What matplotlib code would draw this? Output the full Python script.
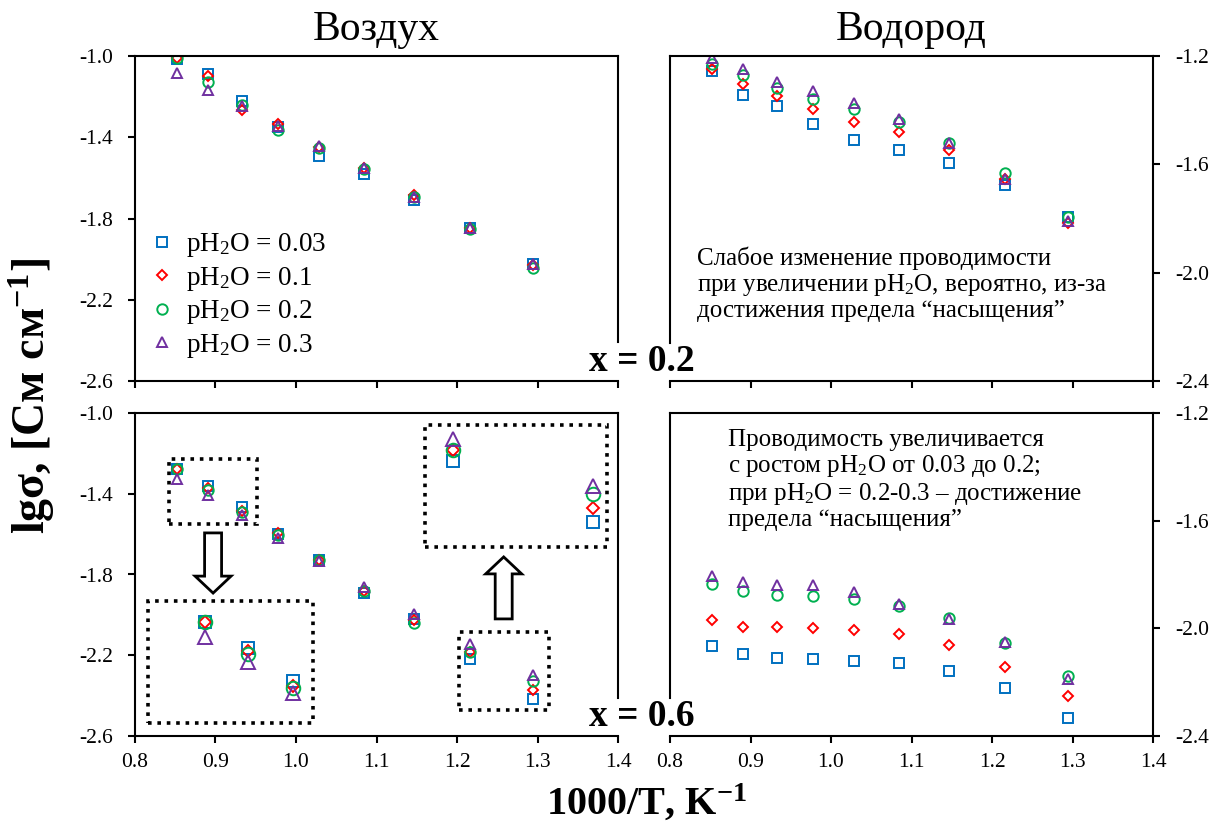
import matplotlib
matplotlib.use('Agg')
import matplotlib.pyplot as plt
from matplotlib.patches import Rectangle, FancyArrow
from matplotlib.ticker import FormatStrFormatter

plt.rcParams['font.family'] = ['Liberation Serif', 'DejaVu Serif']
plt.rcParams['mathtext.fontset'] = 'custom'
plt.rcParams['mathtext.rm'] = 'Liberation Serif'
plt.rcParams['mathtext.it'] = 'Liberation Serif:italic'
plt.rcParams['mathtext.bf'] = 'Liberation Serif:bold'
plt.rcParams['axes.unicode_minus'] = False

# ---- data ----
inv_T = [0.852, 0.891, 0.933, 0.978, 1.029, 1.084, 1.147, 1.216, 1.295]

x_ticks = [0.8, 0.9, 1.0, 1.1, 1.2, 1.3, 1.4]
y_ticks_air = [-2.6, -2.2, -1.8, -1.4, -1.0]
y_ticks_h2 = [-2.4, -2.0, -1.6, -1.2]

ph2o_labels = ['pH$_\\mathrm{2}$O = 0.03', 'pH$_\\mathrm{2}$O = 0.1',
               'pH$_\\mathrm{2}$O = 0.2', 'pH$_\\mathrm{2}$O = 0.3']

# air, x = 0.2
air02_p003 = [-1.016, -1.090, -1.222, -1.349, -1.494, -1.580, -1.708, -1.848, -2.026]
air02_p01 = [-1.012, -1.100, -1.267, -1.333, -1.450, -1.553, -1.683, -1.846, -2.030]
air02_p02 = [-1.010, -1.127, -1.240, -1.362, -1.455, -1.555, -1.695, -1.850, -2.045]
air02_p03 = [-1.086, -1.165, -1.245, -1.345, -1.443, -1.551, -1.695, -1.848, -2.024]

# hydrogen, x = 0.2
h202_p003 = [-1.256, -1.344, -1.385, -1.452, -1.511, -1.548, -1.594, -1.678, -1.795]
h202_p01 = [-1.249, -1.305, -1.348, -1.397, -1.443, -1.480, -1.546, -1.655, -1.817]
h202_p02 = [-1.230, -1.270, -1.317, -1.360, -1.397, -1.443, -1.520, -1.631, -1.795]
h202_p03 = [-1.209, -1.249, -1.295, -1.328, -1.375, -1.431, -1.523, -1.653, -1.811]

# air, x = 0.6
air06_p003 = [-1.279, -1.363, -1.467, -1.598, -1.728, -1.893, -2.020, -2.218, -2.418]
air06_p01 = [-1.279, -1.372, -1.483, -1.593, -1.728, -1.880, -2.025, -2.182, -2.372]
air06_p02 = [-1.279, -1.381, -1.489, -1.604, -1.728, -1.880, -2.039, -2.182, -2.326]
air06_p03 = [-1.327, -1.408, -1.505, -1.621, -1.732, -1.864, -1.997, -2.146, -2.300]

# hydrogen, x = 0.6
h206_p003 = [-2.064, -2.096, -2.109, -2.115, -2.121, -2.130, -2.157, -2.223, -2.334]
h206_p01 = [-1.969, -1.994, -1.994, -1.998, -2.006, -2.021, -2.062, -2.143, -2.251]
h206_p02 = [-1.835, -1.861, -1.876, -1.880, -1.891, -1.917, -1.960, -2.056, -2.177]
h206_p03 = [-1.806, -1.827, -1.839, -1.839, -1.864, -1.911, -1.966, -2.050, -2.189]

colors = ['#0070C0', '#FF0000', '#00B050', '#7030A0']
markers = ['s', 'D', 'o', '^']
msizes = [7, 4.6, 7.5, 7.5]

W, H = 1224, 821
fig = plt.figure(figsize=(W / 100, H / 100), dpi=100)


def px_box(l, t, r, b):
    return [l / W, 1 - b / H, (r - l) / W, (b - t) / H]


ax_tl = fig.add_axes(px_box(135, 56, 618, 381))
ax_tr = fig.add_axes(px_box(670, 56, 1153, 381))
ax_bl = fig.add_axes(px_box(135, 413, 618, 736))
ax_br = fig.add_axes(px_box(670, 413, 1153, 736))


def scatter_series(ax, series, scale=1.0, with_labels=False):
    for i, ys in enumerate(series):
        ax.plot(inv_T, ys, linestyle='none', marker=markers[i],
                markersize=msizes[i] * scale, markerfacecolor='none',
                markeredgecolor=colors[i], markeredgewidth=1.4,
                label=ph2o_labels[i] if with_labels else None)


def style(ax, side, yticks, bottom_labels):
    ax.set_xlim(x_ticks[0], x_ticks[-1])
    ax.set_ylim(yticks[0], yticks[-1])
    ax.set_xticks(x_ticks)
    ax.set_yticks(yticks)
    ax.xaxis.set_major_formatter(FormatStrFormatter('%.1f'))
    ax.yaxis.set_major_formatter(FormatStrFormatter('%.1f'))
    for s in ax.spines.values():
        s.set_linewidth(1.5)
    if side == 'right':
        ax.yaxis.tick_right()
    ax.tick_params(axis='both', direction='out', length=5, width=1.5,
                   labelsize=15.5, colors='black')
    ax.tick_params(axis='x', pad=7, labelbottom=bottom_labels)
    ax.tick_params(axis='y', pad=11)


style(ax_tl, 'left', y_ticks_air, False)
style(ax_tr, 'right', y_ticks_h2, False)
style(ax_bl, 'left', y_ticks_air, True)
style(ax_br, 'right', y_ticks_h2, True)

# gaps in the inner spines where "x = ..." sits
ax_tl.spines['right'].set_bounds(-2.41, -1.0)
ax_bl.spines['right'].set_bounds(-2.41, -1.0)
ax_tr.spines['left'].set_bounds(-2.26, -1.2)
ax_br.spines['left'].set_bounds(-2.26, -1.2)

scatter_series(ax_tl, [air02_p003, air02_p01, air02_p02, air02_p03], with_labels=True)
scatter_series(ax_tr, [h202_p003, h202_p01, h202_p02, h202_p03])
scatter_series(ax_bl, [air06_p003, air06_p01, air06_p02, air06_p03])
scatter_series(ax_br, [h206_p003, h206_p01, h206_p02, h206_p03])

ax_tl.legend(loc='center left', bbox_to_anchor=(0.03, 0.263), frameon=False,
             fontsize=19.5, handlelength=0.95, handletextpad=0.4,
             labelspacing=0.2, borderpad=0, borderaxespad=0)

# ---- zoomed views in the air x=0.6 panel ----
dots = (0, (1, 1.6))
air06 = [air06_p003, air06_p01, air06_p02, air06_p03]

ins1 = ax_bl.inset_axes([0.816, -2.536, 0.205, 0.605], transform=ax_bl.transData)
ins1.set_xlim(0.799, 0.951)
ins1.set_ylim(-1.601, -1.212)
ins2 = ax_bl.inset_axes([1.160, -1.664, 0.226, 0.605], transform=ax_bl.transData)
ins2.set_xlim(1.200, 1.303)
ins2.set_ylim(-2.500, -2.100)
for ins in (ins1, ins2):
    ins.set_xticks([])
    ins.set_yticks([])
    ins.patch.set_facecolor('none')
    for s in ins.spines.values():
        s.set_visible(False)
    ins.add_patch(Rectangle((0, 0), 1, 1, transform=ins.transAxes, fill=False,
                            linestyle=dots, linewidth=2.6, clip_on=False))
    scatter_series(ins, air06, scale=1.3)

ax_bl.add_patch(Rectangle((0.842, -1.550), 0.110, 0.322, fill=False,
                          linestyle=dots, linewidth=2.6))
ax_bl.add_patch(Rectangle((1.202, -2.471), 0.112, 0.386, fill=False,
                          linestyle=dots, linewidth=2.6))

ax_bl.add_patch(FancyArrow(0.897, -1.594, 0, -0.298, width=0.0211,
                           head_width=0.0447, head_length=0.084,
                           length_includes_head=True, facecolor='white',
                           edgecolor='black', linewidth=2))
ax_bl.add_patch(FancyArrow(1.258, -2.020, 0, 0.307, width=0.0211,
                           head_width=0.0447, head_length=0.084,
                           length_includes_head=True, facecolor='white',
                           edgecolor='black', linewidth=2))

# ---- annotations ----
ax_tr.text(0.055, 0.298,
           'Слабое изменение проводимости\n'
           'при увеличении pH$_\\mathrm{2}$O, вероятно, из-за\n'
           'достижения предела “насыщения”',
           transform=ax_tr.transAxes, ha='left', va='center',
           fontsize=18, linespacing=1.1)
ax_br.text(0.12, 0.793,
           'Проводимость увеличивается\n'
           'с ростом pH$_\\mathrm{2}$O от 0.03 до 0.2;\n'
           'при pH$_\\mathrm{2}$O = 0.2-0.3 – достижение\n'
           'предела “насыщения”',
           transform=ax_br.transAxes, ha='left', va='center',
           fontsize=18, linespacing=1.1)

fig.text(376 / W, 1 - 30 / H, 'Воздух', ha='center', va='center', fontsize=30)
fig.text(911 / W, 1 - 30 / H, 'Водород', ha='center', va='center', fontsize=30)

fig.text(642 / W, 1 - 361 / H, 'x = 0.2', ha='center', va='center',
         fontsize=27, weight='bold')
fig.text(642 / W, 1 - 716 / H, 'x = 0.6', ha='center', va='center',
         fontsize=27, weight='bold')

fig.text(32 / W, 1 - 396 / H, 'lgσ, [См см$^{\\mathbf{-1}}$]', rotation=90,
         ha='center', va='center', fontsize=33, weight='bold')
fig.text(646 / W, 1 - 802 / H, '1000/T, K$^{\\mathbf{-1}}$', ha='center',
         va='center', fontsize=29, weight='bold')

fig.savefig('out.png', dpi=100)
